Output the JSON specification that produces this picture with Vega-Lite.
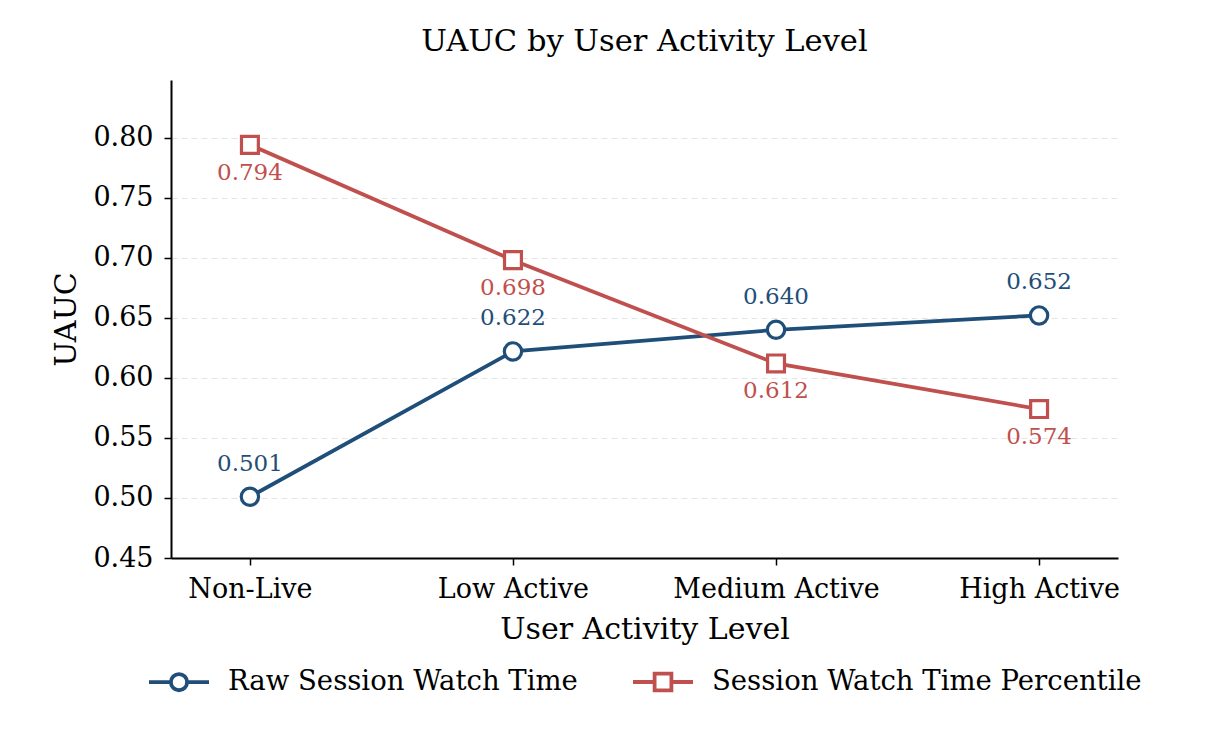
{
  "$schema": "https://vega.github.io/schema/vega-lite/v6.json",
  "width": 947,
  "height": 478,
  "autosize": {"type": "none"},
  "padding": {"left": 171, "top": 80, "right": 97, "bottom": 197},
  "background": "white",
  "config": {
    "font": "DejaVu Serif",
    "view": {"stroke": null},
    "axis": {"labelFont": "DejaVu Serif", "titleFont": "DejaVu Serif", "titleFontWeight": "normal", "labelColor": "black", "titleColor": "black", "domainColor": "black", "tickColor": "black"},
    "legend": {"layout": {"bottom": {"anchor": "middle"}}}
  },
  "title": {"text": "UAUC by User Activity Level", "font": "DejaVu Serif", "fontSize": 30.5, "fontWeight": "normal", "color": "black", "anchor": "middle", "offset": 23},
  "data": {"values": [
    {"level": "Non-Live", "series": "Raw Session Watch Time", "uauc": 0.501},
    {"level": "Low Active", "series": "Raw Session Watch Time", "uauc": 0.622},
    {"level": "Medium Active", "series": "Raw Session Watch Time", "uauc": 0.640},
    {"level": "High Active", "series": "Raw Session Watch Time", "uauc": 0.652},
    {"level": "Non-Live", "series": "Session Watch Time Percentile", "uauc": 0.794},
    {"level": "Low Active", "series": "Session Watch Time Percentile", "uauc": 0.698},
    {"level": "Medium Active", "series": "Session Watch Time Percentile", "uauc": 0.612},
    {"level": "High Active", "series": "Session Watch Time Percentile", "uauc": 0.574}
  ]},
  "encoding": {
    "x": {"field": "level", "type": "ordinal", "sort": ["Non-Live", "Low Active", "Medium Active", "High Active"],
      "scale": {"type": "point", "padding": 0.3},
      "axis": {"title": "User Activity Level", "titleFontSize": 30, "labelFontSize": 27, "labelLimit": 400, "labelAngle": 0, "tickSize": 7, "tickWidth": 1.5, "domainWidth": 2, "labelPadding": 11, "titlePadding": 12, "grid": false}},
    "y": {"field": "uauc", "type": "quantitative",
      "scale": {"domain": [0.45, 0.848], "nice": false, "zero": false},
      "axis": {"title": "UAUC", "titleFontSize": 30, "labelFontSize": 27, "values": [0.45, 0.5, 0.55, 0.6, 0.65, 0.7, 0.75, 0.8], "format": ".2f", "tickSize": 7, "tickWidth": 1.5, "domainWidth": 2, "labelPadding": 11, "titlePadding": 11, "grid": true, "gridDash": [6, 4], "gridColor": "#e4e4e4", "gridWidth": 1}}
  },
  "layer": [
    {
      "mark": {"type": "point", "filled": false, "opacity": 0, "strokeWidth": 3.8},
      "encoding": {
        "color": {"field": "series", "type": "nominal",
          "scale": {"domain": ["Raw Session Watch Time", "Session Watch Time Percentile"], "range": ["#1f4e79", "#c0504d"]},
          "legend": {"title": null, "orient": "bottom", "direction": "horizontal", "labelFontSize": 27.5, "labelFont": "DejaVu Serif", "labelColor": "black", "labelLimit": 700, "symbolSize": 3600, "symbolStrokeWidth": 3.8, "symbolOpacity": 1, "symbolFillColor": "white", "columnPadding": 47, "labelOffset": 17, "offset": 6}},
        "shape": {"field": "series", "type": "nominal", "scale": {"domain": ["Raw Session Watch Time", "Session Watch Time Percentile"], "range": ["M-1,0 L-0.27,0 M0.27,0 L1,0 M0.27,0 A0.27,0.27 0 1,1 -0.27,0 A0.27,0.27 0 1,1 0.27,0 Z", "M-1,0 L-0.28,0 M0.28,0 L1,0 M-0.28,-0.28 L0.28,-0.28 L0.28,0.28 L-0.28,0.28 Z"]}}
      }
    },
    {
      "mark": {"type": "line", "strokeWidth": 3.8},
      "encoding": {"color": {"field": "series", "type": "nominal"}}
    },
    {
      "transform": [{"filter": "datum.series === 'Raw Session Watch Time'"}],
      "mark": {"type": "point", "shape": "circle", "filled": false, "fill": "white", "fillOpacity": 1, "stroke": "#1f4e79", "strokeWidth": 3.2, "size": 300, "opacity": 1}
    },
    {
      "transform": [{"filter": "datum.series === 'Session Watch Time Percentile'"}],
      "mark": {"type": "point", "shape": "square", "filled": false, "fill": "white", "fillOpacity": 1, "stroke": "#c0504d", "strokeWidth": 3.2, "size": 285, "opacity": 1}
    },
    {
      "transform": [{"filter": "datum.series === 'Raw Session Watch Time'"}],
      "mark": {"type": "text", "fontSize": 23, "font": "DejaVu Serif", "dy": -33, "baseline": "middle", "fill": "#1f4e79"},
      "encoding": {"text": {"field": "uauc", "type": "quantitative", "format": ".3f"}}
    },
    {
      "transform": [{"filter": "datum.series === 'Session Watch Time Percentile'"}],
      "mark": {"type": "text", "fontSize": 23, "font": "DejaVu Serif", "dy": 28, "baseline": "middle", "fill": "#c0504d"},
      "encoding": {"text": {"field": "uauc", "type": "quantitative", "format": ".3f"}}
    }
  ]
}
